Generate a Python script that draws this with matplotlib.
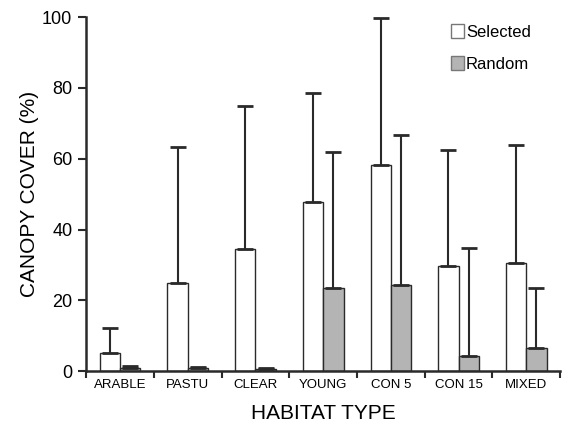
import numpy as np
import matplotlib
matplotlib.use('Agg')
import matplotlib.pyplot as plt
from matplotlib.patches import Patch

plt.rcParams['font.family'] = ['Liberation Sans', 'DejaVu Sans']

habitats = ['ARABLE', 'PASTU', 'CLEAR', 'YOUNG', 'CON 5', 'CON 15', 'MIXED']
selected_mean = [5.0, 24.9, 34.5, 47.7, 58.3, 29.6, 30.4]
selected_upper = [12.3, 63.2, 74.9, 78.6, 99.9, 62.6, 64.0]
random_mean = [1.0, 1.0, 0.5, 23.5, 24.4, 4.4, 6.4]
random_upper = [1.3, 1.2, 0.8, 61.9, 66.7, 34.8, 23.6]

LINE = '#2a2a2a'
GREY = '#b4b4b4'

fig = plt.figure(figsize=(5.67, 4.29), dpi=100)
ax = fig.add_axes([0.152, 0.135, 0.836, 0.825])

x = np.arange(len(habitats)) + 0.5
w = 0.3
sel = np.array(selected_mean); ran = np.array(random_mean)

ax.bar(x - w / 2, sel, width=w, color='white', edgecolor=LINE, linewidth=1.0)
ax.bar(x + w / 2, ran, width=w, color=GREY, edgecolor=LINE, linewidth=1.0)
ax.errorbar(x - w / 2, sel, yerr=[np.zeros_like(sel), np.array(selected_upper) - sel],
            fmt='none', ecolor=LINE, elinewidth=1.5, capsize=5.5, capthick=2)
ax.errorbar(x + w / 2, ran, yerr=[np.zeros_like(ran), np.array(random_upper) - ran],
            fmt='none', ecolor=LINE, elinewidth=1.5, capsize=5.5, capthick=2)

ax.set_xlim(0, len(habitats))
ax.set_ylim(0, 100)
ax.set_yticks([0, 20, 40, 60, 80, 100])
ax.tick_params(axis='y', labelsize=13, length=6, width=1.5, direction='out', pad=4, color=LINE)
ax.set_xticks(np.arange(len(habitats) + 1))
ax.set_xticklabels([])
ax.tick_params(axis='x', which='major', length=5, width=1.5, direction='out', color=LINE)
ax.set_xticks(x, minor=True)
ax.set_xticklabels(habitats, minor=True, fontsize=9.5, fontweight='medium')
ax.tick_params(axis='x', which='minor', length=0, pad=6)

for s in ['top', 'right']:
    ax.spines[s].set_visible(False)
for s in ['left', 'bottom']:
    ax.spines[s].set_linewidth(1.8)
    ax.spines[s].set_color(LINE)

ax.set_ylabel('CANOPY COVER (%)', fontsize=15, labelpad=2)
ax.set_xlabel('HABITAT TYPE', fontsize=15, labelpad=9)

handles = [Patch(facecolor='white', edgecolor='#777777', label='Selected'),
           Patch(facecolor=GREY, edgecolor='#777777', label='Random')]
ax.legend(handles=handles, loc='upper right', bbox_to_anchor=(0.97, 1.022), frameon=False,
          fontsize=12, handlelength=0.8, handleheight=0.9, handletextpad=0.1, labelspacing=0.95)

fig.savefig('out.png', dpi=100)
